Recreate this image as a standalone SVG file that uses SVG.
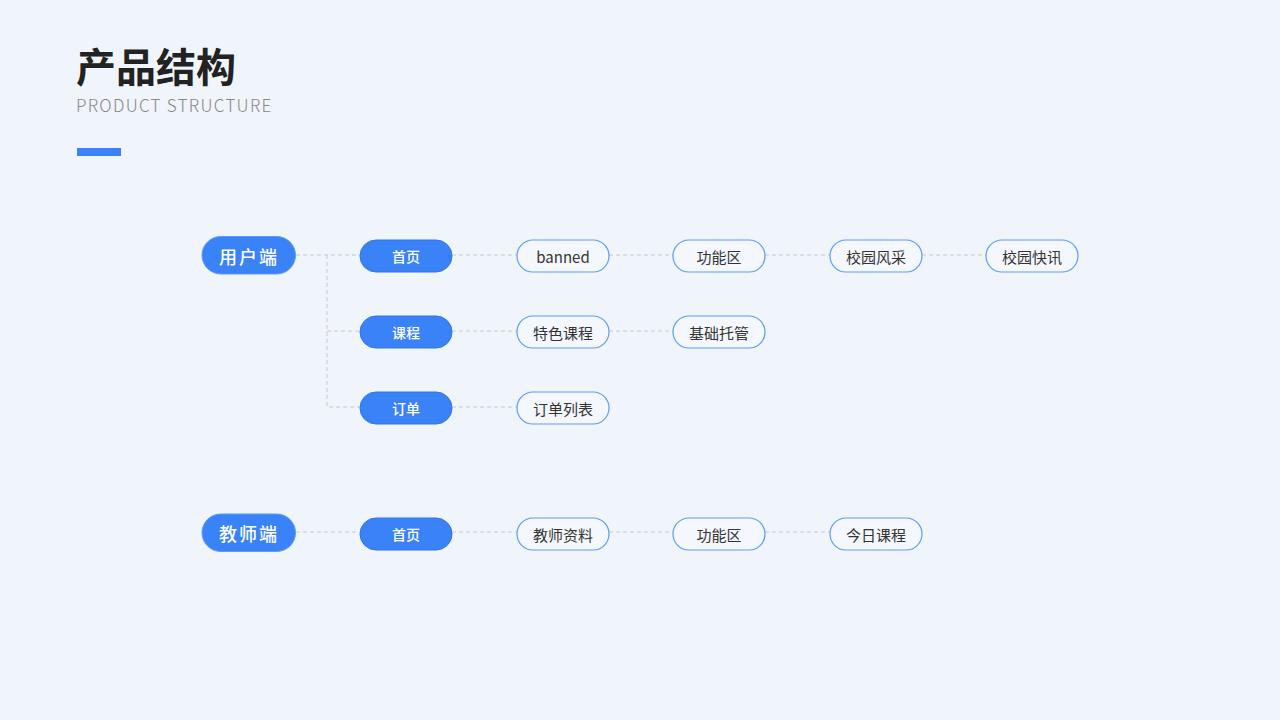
<svg xmlns="http://www.w3.org/2000/svg" width="1280" height="720" viewBox="0 0 1280 720">
<style>
.t{font-family:"Noto Sans CJK SC","Noto Sans",sans-serif}
.root rect{fill:#3a82f7;stroke:#5e9bf8;stroke-width:1}
.root text{fill:#fff;font-size:18px;letter-spacing:2px;text-anchor:middle;dominant-baseline:central;font-weight:500}
.l2 rect{fill:#3a82f7;stroke:#2f74e6;stroke-width:1}
.l2 text{fill:#fff;font-size:14px;text-anchor:middle;dominant-baseline:central;font-weight:500}
.l3 rect{fill:#f4f7fd;stroke:#5d9cf8;stroke-width:1.2}
.l3 text{fill:#333;font-size:15px;text-anchor:middle;dominant-baseline:central}
#connectors path{fill:none;stroke:#c8c9cc;stroke-width:1;stroke-dasharray:4 3}
</style>
<rect width="1280" height="720" fill="#f0f4fb"/>
<g id="title">
<text class="t" x="76" y="82" font-size="40" font-weight="700" fill="#222">产品结构</text>
<text class="t" x="76" y="111.5" font-size="17" font-weight="300" fill="#888" letter-spacing="1.3">PRODUCT STRUCTURE</text>
<rect x="77" y="148" width="44" height="8" fill="#3a82f7"/>
</g>
<g id="connectors">
<path d="M296 255H360M327 255V407H360M327 331H360"/>
<path d="M452 255H517M609 255H673M765 255H830M922 255H986"/>
<path d="M452 331H517M609 331H673"/>
<path d="M452 407H517"/>
<path d="M296 532H360M452 532H517M609 532H673M765 532H830"/>
</g>
<g id="user" class="root t"><rect x="202" y="236.5" width="93.5" height="37.5" rx="18.75"/><text x="249" y="255.5">用户端</text></g>
<g id="u-home" class="l2 t"><rect x="360" y="240" width="92" height="32" rx="16"/><text x="406" y="256">首页</text></g>
<g id="u-course" class="l2 t"><rect x="360" y="316" width="92" height="32" rx="16"/><text x="406" y="332">课程</text></g>
<g id="u-order" class="l2 t"><rect x="360" y="392" width="92" height="32" rx="16"/><text x="406" y="408">订单</text></g>
<g id="u-banned" class="l3 t"><rect x="517" y="240" width="92" height="32" rx="16"/><text x="563" y="256">banned</text></g>
<g id="u-func" class="l3 t"><rect x="673" y="240" width="92" height="32" rx="16"/><text x="719" y="256">功能区</text></g>
<g id="u-style" class="l3 t"><rect x="830" y="240" width="92" height="32" rx="16"/><text x="876" y="256">校园风采</text></g>
<g id="u-news" class="l3 t"><rect x="986" y="240" width="92" height="32" rx="16"/><text x="1032" y="256">校园快讯</text></g>
<g id="u-special" class="l3 t"><rect x="517" y="316" width="92" height="32" rx="16"/><text x="563" y="332">特色课程</text></g>
<g id="u-care" class="l3 t"><rect x="673" y="316" width="92" height="32" rx="16"/><text x="719" y="332">基础托管</text></g>
<g id="u-orderlist" class="l3 t"><rect x="517" y="392" width="92" height="32" rx="16"/><text x="563" y="408">订单列表</text></g>
<g id="teacher" class="root t"><rect x="202" y="514" width="93.5" height="37.5" rx="18.75"/><text x="249" y="533">教师端</text></g>
<g id="t-home" class="l2 t"><rect x="360" y="518" width="92" height="32" rx="16"/><text x="406" y="534">首页</text></g>
<g id="t-profile" class="l3 t"><rect x="517" y="518" width="92" height="32" rx="16"/><text x="563" y="534">教师资料</text></g>
<g id="t-func" class="l3 t"><rect x="673" y="518" width="92" height="32" rx="16"/><text x="719" y="534">功能区</text></g>
<g id="t-today" class="l3 t"><rect x="830" y="518" width="92" height="32" rx="16"/><text x="876" y="534">今日课程</text></g>
</svg>
